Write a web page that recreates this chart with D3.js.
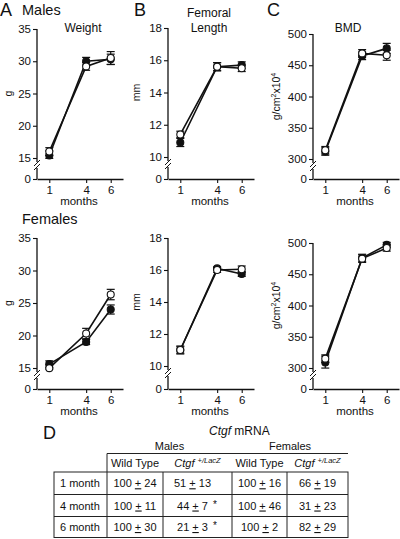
<!DOCTYPE html>
<html><head><meta charset="utf-8">
<script src="https://cdn.jsdelivr.net/npm/d3@7"></script>
<style>
body{margin:0;background:#fff;}
svg{display:block;font-family:"Liberation Sans",Arial,sans-serif;}
</style></head>
<body><svg id="c" width="400" height="539"></svg>
<script>
const months = [1, 4, 6];
const monthTicks = [1, 4, 6];

// Males
const maleWeightFilled = [15.4, 30.0, 30.3], maleWeightFilledErr = [0.7, 0.6, 0.8];
const maleWeightOpen = [16.0, 29.2, 30.5], maleWeightOpenErr = [0.6, 0.6, 1.0];
const maleFemurFilled = [10.9, 15.6, 15.7], maleFemurFilledErr = [0.25, 0.25, 0.2];
const maleFemurOpen = [11.4, 15.6, 15.5], maleFemurOpenErr = [0.2, 0.25, 0.2];
const maleBmdFilled = [312, 465, 477], maleBmdFilledErr = [6, 6, 8];
const maleBmdOpen = [314, 469, 466], maleBmdOpenErr = [6, 6, 8];
// Females
const femaleWeightFilled = [15.6, 19.0, 24.0], femaleWeightFilledErr = [0.5, 0.4, 0.7];
const femaleWeightOpen = [14.9, 20.3, 26.3], femaleWeightOpenErr = [0.6, 0.8, 0.8];
const femaleFemurFilled = [11.0, 16.1, 15.75], femaleFemurFilledErr = [0.25, 0.1, 0.15];
const femaleFemurOpen = [11.0, 16.0, 16.05], femaleFemurOpenErr = [0.2, 0.15, 0.2];
const femaleBmdFilled = [309, 476, 497], femaleBmdFilledErr = [10, 6, 4];
const femaleBmdOpen = [315, 475, 492], femaleBmdOpenErr = [6, 6, 5];

const weightTicks = [15, 20, 25, 30, 35];
const femurTicks = [10, 12, 14, 16, 18];
const bmdTicks = [300, 350, 400, 450, 500];

// Table
const rowLabels = ["1 month", "4 month", "6 month"];
const maleWTMean = [100, 100, 100], maleWTSE = [24, 11, 30];
const maleKOMean = [51, 44, 21], maleKOSE = [13, 7, 3], maleKOSig = [false, true, true];
const femaleWTMean = [100, 100, 100], femaleWTSE = [16, 46, 2];
const femaleKOMean = [66, 31, 82], femaleKOSE = [19, 23, 29];

const svg = d3.select("#c");
const ink = "#111";

function panel(o) {
  const g = svg.append("g");
  const x = d3.scaleLinear().domain([0, 7]).range([o.left, o.left + 86]);
  const lo = o.ticks[0], hi = o.ticks[o.ticks.length - 1];
  const y = d3.scaleLinear().domain([0, lo, hi]).range([o.base, o.loY, o.hiY]);
  // y axis
  const ya = d3.axisLeft(y).tickValues([0].concat(o.ticks)).tickFormat(d3.format("d")).tickSize(4).tickPadding(2);
  const yg = g.append("g").attr("transform", `translate(${o.left},0)`).call(ya);
  yg.select(".domain").remove();
  yg.selectAll("line").attr("stroke", ink).attr("stroke-width", 1.1);
  yg.selectAll("text").attr("font-size", 11.5).attr("fill", ink)
    .attr("font-family", "Liberation Sans, Arial, sans-serif");
  // axis line with break
  const bl = o.loY;
  g.append("line").attr("x1", o.left).attr("x2", o.left).attr("y1", o.hiY).attr("y2", bl + 4)
    .attr("stroke", ink).attr("stroke-width", 1.3);
  g.append("line").attr("x1", o.left).attr("x2", o.left).attr("y1", bl + 10).attr("y2", o.base)
    .attr("stroke", ink).attr("stroke-width", 1.3);
  [bl + 5, bl + 9].forEach(yy => {
    g.append("line").attr("x1", o.left - 3).attr("x2", o.left + 3).attr("y1", yy + 3).attr("y2", yy - 3)
      .attr("stroke", ink).attr("stroke-width", 1);
  });
  // x axis
  const xa = d3.axisBottom(x).tickValues(monthTicks).tickFormat(d3.format("d")).tickSize(4).tickPadding(3).tickSizeOuter(0);
  const xg = g.append("g").attr("transform", `translate(0,${o.base})`).call(xa);
  xg.select(".domain").attr("stroke", ink).attr("stroke-width", 1.3);
  xg.selectAll("line").attr("stroke", ink).attr("stroke-width", 1.1);
  xg.selectAll("text").attr("font-size", 11.5).attr("fill", ink)
    .attr("font-family", "Liberation Sans, Arial, sans-serif");
  g.append("text").attr("x", x(3.5) - 1).attr("y", o.base + 26).attr("text-anchor", "middle")
    .attr("font-size", 11.5).attr("fill", ink).text("months");
  // y label
  const yl = g.append("text").attr("transform", `translate(${o.ylabX},${(o.hiY + o.loY) / 2}) rotate(-90)`)
    .attr("text-anchor", "middle").attr("font-size", 10.5).attr("fill", ink);
  if (o.ylab === "bmd") {
    yl.append("tspan").text("g/cm");
    yl.append("tspan").attr("font-size", 7).attr("dy", -4).text("2");
    yl.append("tspan").attr("dy", 4).text("x10");
    yl.append("tspan").attr("font-size", 7).attr("dy", -4).text("4");
  } else yl.text(o.ylab);
  // title
  if (o.title) {
    o.title.forEach((t, i) => g.append("text").attr("x", o.titleX).attr("y", o.titleY + i * 15)
      .attr("text-anchor", "middle").attr("font-size", 12).attr("fill", ink).text(t));
  }
  // series
  const series = [
    {v: o.filled, e: o.filledErr, fill: ink},
    {v: o.open, e: o.openErr, fill: "#fff"}
  ];
  const line = d3.line().x((d, i) => x(months[i])).y(d => y(d));
  series.forEach(s => {
    g.append("path").attr("d", line(s.v)).attr("fill", "none").attr("stroke", ink).attr("stroke-width", 1.6);
  });
  series.forEach(s => {
    s.v.forEach((v, i) => {
      const cx = x(months[i]), y1 = y(v + s.e[i]), y2 = y(v - s.e[i]);
      g.append("line").attr("x1", cx).attr("x2", cx).attr("y1", y1).attr("y2", y2).attr("stroke", ink).attr("stroke-width", 1.2);
      [y1, y2].forEach(yy => g.append("line").attr("x1", cx - 4).attr("x2", cx + 4).attr("y1", yy).attr("y2", yy)
        .attr("stroke", ink).attr("stroke-width", 1.2));
    });
  });
  series.forEach(s => {
    s.v.forEach((v, i) => {
      g.append("circle").attr("cx", x(months[i])).attr("cy", y(v)).attr("r", 3.5)
        .attr("fill", s.fill).attr("stroke", ink).attr("stroke-width", 1.1);
    });
  });
}

panel({left: 37, base: 179, loY: 158, hiY: 29, ticks: weightTicks, ylab: "g", ylabX: 12,
  title: ["Weight"], titleX: 83, titleY: 32,
  filled: maleWeightFilled, filledErr: maleWeightFilledErr, open: maleWeightOpen, openErr: maleWeightOpenErr});
panel({left: 168, base: 179, loY: 157, hiY: 28, ticks: femurTicks, ylab: "mm", ylabX: 140,
  title: ["Femoral", "Length"], titleX: 209, titleY: 17,
  filled: maleFemurFilled, filledErr: maleFemurFilledErr, open: maleFemurOpen, openErr: maleFemurOpenErr});
panel({left: 313, base: 179, loY: 159, hiY: 34, ticks: bmdTicks, ylab: "bmd", ylabX: 280,
  title: ["BMD"], titleX: 348, titleY: 32,
  filled: maleBmdFilled, filledErr: maleBmdFilledErr, open: maleBmdOpen, openErr: maleBmdOpenErr});

panel({left: 37, base: 389, loY: 368, hiY: 238, ticks: weightTicks, ylab: "g", ylabX: 12,
  filled: femaleWeightFilled, filledErr: femaleWeightFilledErr, open: femaleWeightOpen, openErr: femaleWeightOpenErr});
panel({left: 168, base: 389, loY: 366, hiY: 238, ticks: femurTicks, ylab: "mm", ylabX: 140,
  filled: femaleFemurFilled, filledErr: femaleFemurFilledErr, open: femaleFemurOpen, openErr: femaleFemurOpenErr});
panel({left: 313, base: 389, loY: 368, hiY: 243, ticks: bmdTicks, ylab: "bmd", ylabX: 280,
  filled: femaleBmdFilled, filledErr: femaleBmdFilledErr, open: femaleBmdOpen, openErr: femaleBmdOpenErr});

// panel letters & group titles
const lab = (t, x, y, fs) => svg.append("text").attr("x", x).attr("y", y).attr("font-size", fs).attr("fill", ink).text(t);
lab("A", 0, 16, 18); lab("B", 134, 16, 18); lab("C", 267, 16, 18);
lab("Males", 22, 15, 14.5); lab("Females", 22, 224, 14.5);
lab("D", 43, 439, 18);

// Title for table
const tt = svg.append("text").attr("x", 209).attr("y", 435).attr("font-size", 12).attr("fill", ink);
tt.append("tspan").attr("font-style", "italic").text("Ctgf");
tt.append("tspan").text("  mRNA");

// Table geometry
const cols = [54, 107, 163, 232, 287, 348];
const rowsY = [472, 494.5, 516.5, 537.5];
const tg = svg.append("g").attr("stroke", "#222").attr("stroke-width", 1);
tg.append("rect").attr("x", cols[0]).attr("y", rowsY[0]).attr("width", cols[5] - cols[0]).attr("height", rowsY[3] - rowsY[0]).attr("fill", "none");
[1, 2].forEach(i => tg.append("line").attr("x1", cols[0]).attr("x2", cols[5]).attr("y1", rowsY[i]).attr("y2", rowsY[i]));
[1, 2, 3, 4].forEach(i => tg.append("line").attr("x1", cols[i]).attr("x2", cols[i]).attr("y1", rowsY[0]).attr("y2", rowsY[3]));
tg.append("line").attr("x1", cols[1]).attr("x2", cols[5]).attr("y1", 453.5).attr("y2", 453.5);
tg.append("line").attr("x1", cols[1]).attr("x2", cols[1]).attr("y1", 453.5).attr("y2", rowsY[0]);

const txt = (x, y, anchor) => svg.append("text").attr("x", x).attr("y", y).attr("text-anchor", anchor)
  .attr("font-size", 11).attr("fill", ink);
txt((cols[1] + cols[3]) / 2, 450, "middle").text("Males");
txt((cols[3] + cols[5]) / 2, 450, "middle").text("Females");
function ctgfHeader(cx) {
  const t = txt(cx, 467, "middle");
  t.append("tspan").attr("font-style", "italic").text("Ctgf ");
  t.append("tspan").attr("font-style", "italic").attr("font-size", 7.5).attr("dy", -4).text("+/LacZ");
}
txt((cols[1] + cols[2]) / 2, 467, "middle").text("Wild Type");
ctgfHeader((cols[2] + cols[3]) / 2);
txt((cols[3] + cols[4]) / 2, 467, "middle").text("Wild Type");
ctgfHeader((cols[4] + cols[5]) / 2);

function pm(cx, y, m, s) {
  const t = txt(cx, y, "middle");
  t.append("tspan").text(m + " ");
  t.append("tspan").attr("text-decoration", "underline").text("+");
  t.append("tspan").text(" " + s);
  return t;
}
rowLabels.forEach((r, i) => {
  const yy = (rowsY[i] + rowsY[i + 1]) / 2 + 4;
  txt(cols[0] + 6, yy, "start").text(r);
  pm((cols[1] + cols[2]) / 2, yy, maleWTMean[i], maleWTSE[i]);
  pm((cols[2] + cols[3]) / 2 - 5, yy, maleKOMean[i], maleKOSE[i]);
  if (maleKOSig[i]) txt(215, yy - 2, "middle").attr("font-size", 10).text("*");
  pm((cols[3] + cols[4]) / 2, yy, femaleWTMean[i], femaleWTSE[i]);
  pm((cols[4] + cols[5]) / 2, yy, femaleKOMean[i], femaleKOSE[i]);
});
</script></body></html>
